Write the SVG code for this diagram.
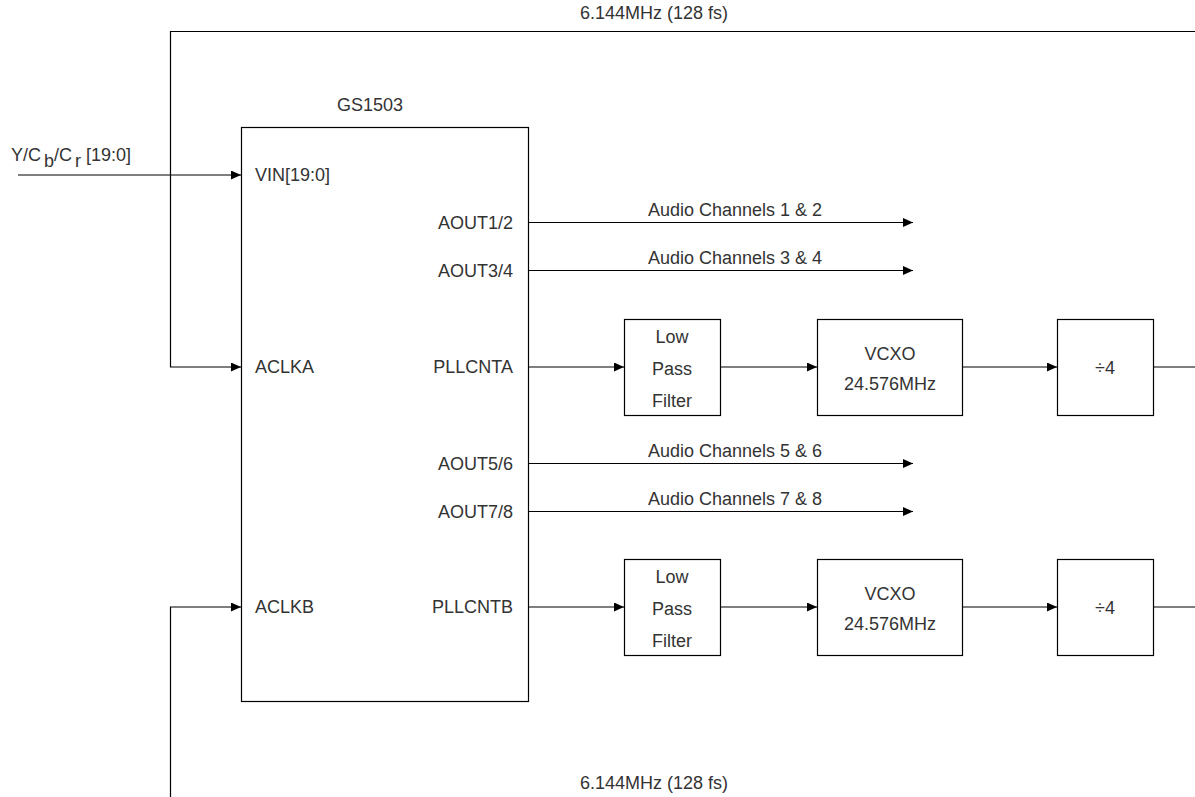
<svg xmlns="http://www.w3.org/2000/svg" width="1195" height="797" viewBox="0 0 1195 797">
<style>
text{font-family:"Liberation Sans",Arial,sans-serif;font-size:18px;fill:#333}
.m{text-anchor:middle}
.e{text-anchor:end}
.box{fill:#fff;stroke:#000;stroke-width:1.2}
.ln{fill:none;stroke:#000;stroke-width:1.2}
</style>
<defs>
<marker id="ah" markerWidth="10" markerHeight="9" refX="10" refY="4.5" orient="auto" markerUnits="userSpaceOnUse">
<path d="M0,0 L10,4.5 L0,9 Z" fill="#000"/>
</marker>
</defs>
<rect width="1195" height="797" fill="#fff"/>
<g id="connectors">
<path class="ln" d="M1195,31.5 H170.5 V367 H241" marker-end="url(#ah)"/>
<path class="ln" d="M170.5,800 V607 H241" marker-end="url(#ah)"/>
<path class="ln" d="M18,175 H241" marker-end="url(#ah)"/>
<path class="ln" d="M529,222.5 H913" marker-end="url(#ah)"/>
<path class="ln" d="M529,270.5 H913" marker-end="url(#ah)"/>
<path class="ln" d="M529,463.5 H913" marker-end="url(#ah)"/>
<path class="ln" d="M529,511.5 H913" marker-end="url(#ah)"/>
<path class="ln" d="M529,367 H624" marker-end="url(#ah)"/>
<path class="ln" d="M720,367 H817" marker-end="url(#ah)"/>
<path class="ln" d="M962,367 H1057" marker-end="url(#ah)"/>
<path class="ln" d="M1153,367 H1195"/>
<path class="ln" d="M529,607 H624" marker-end="url(#ah)"/>
<path class="ln" d="M720,607 H817" marker-end="url(#ah)"/>
<path class="ln" d="M962,607 H1057" marker-end="url(#ah)"/>
<path class="ln" d="M1153,607 H1195"/>
<text class="m" x="654" y="19">6.144MHz (128 fs)</text>
<text class="m" x="654" y="789">6.144MHz (128 fs)</text>
<text x="11" y="161">Y/C<tspan dx="3" dy="6">b</tspan><tspan dy="-6">/C</tspan><tspan dx="3" dy="6">r</tspan><tspan dy="-6"> [19:0]</tspan></text>
<text x="648" y="216">Audio Channels 1 &amp; 2</text>
<text x="648" y="264">Audio Channels 3 &amp; 4</text>
<text x="648" y="457">Audio Channels 5 &amp; 6</text>
<text x="648" y="505">Audio Channels 7 &amp; 8</text>
</g>
<g id="gs1503">
<rect class="box" x="241.5" y="127.5" width="287" height="574"/>
<text class="m" x="370" y="111">GS1503</text>
<text x="255" y="181">VIN[19:0]</text>
<text x="255" y="373">ACLKA</text>
<text x="255" y="613">ACLKB</text>
<text class="e" x="513" y="229">AOUT1/2</text>
<text class="e" x="513" y="277">AOUT3/4</text>
<text class="e" x="513" y="373">PLLCNTA</text>
<text class="e" x="513" y="470">AOUT5/6</text>
<text class="e" x="513" y="518">AOUT7/8</text>
<text class="e" x="513" y="613">PLLCNTB</text>
</g>
<g id="lpfA">
<rect class="box" x="624.5" y="319.5" width="96" height="96"/>
<text class="m" x="672" y="343">Low</text>
<text class="m" x="672" y="375">Pass</text>
<text class="m" x="672" y="407">Filter</text>
</g>
<g id="vcxoA">
<rect class="box" x="817.5" y="319.5" width="145" height="96"/>
<text class="m" x="890" y="360">VCXO</text>
<text class="m" x="890" y="390">24.576MHz</text>
</g>
<g id="divA">
<rect class="box" x="1057.5" y="319.5" width="96" height="96"/>
<text class="m" x="1105" y="374">÷4</text>
</g>
<g id="lpfB">
<rect class="box" x="624.5" y="559.5" width="96" height="96"/>
<text class="m" x="672" y="583">Low</text>
<text class="m" x="672" y="615">Pass</text>
<text class="m" x="672" y="647">Filter</text>
</g>
<g id="vcxoB">
<rect class="box" x="817.5" y="559.5" width="145" height="96"/>
<text class="m" x="890" y="600">VCXO</text>
<text class="m" x="890" y="630">24.576MHz</text>
</g>
<g id="divB">
<rect class="box" x="1057.5" y="559.5" width="96" height="96"/>
<text class="m" x="1105" y="614">÷4</text>
</g>
</svg>
